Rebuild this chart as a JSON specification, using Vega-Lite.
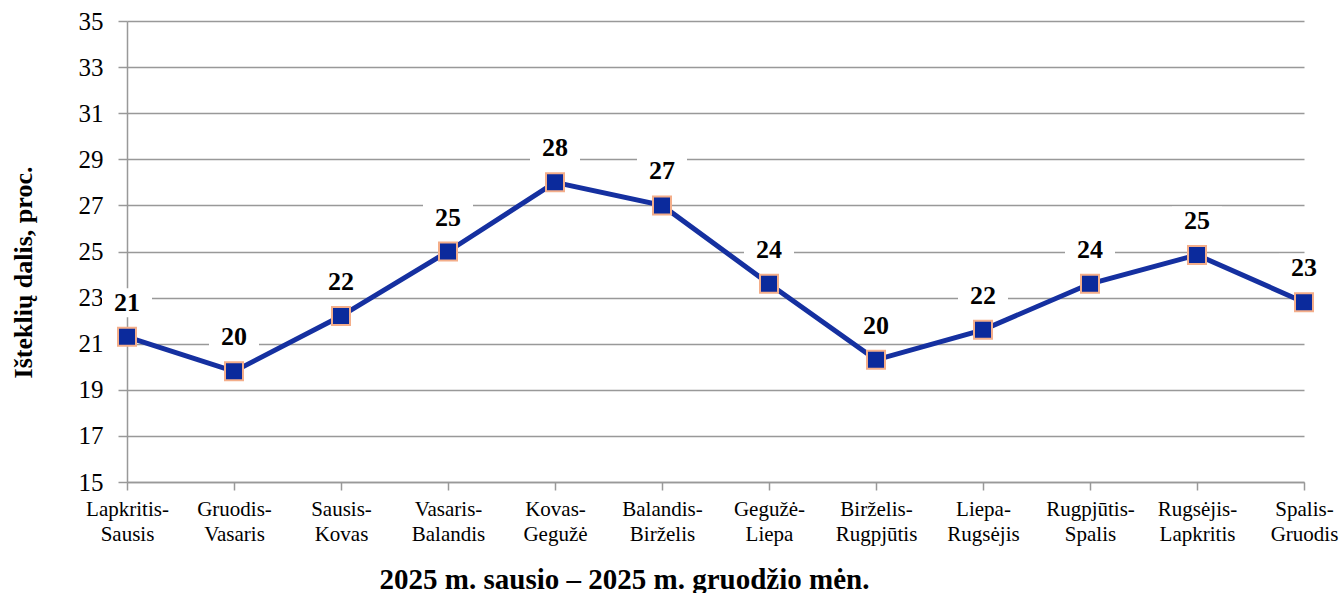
{
  "$schema": "https://vega.github.io/schema/vega-lite/v6.json",
  "width": 1177,
  "height": 461,
  "autosize": "none",
  "padding": {"left": 127, "top": 21, "right": 37, "bottom": 111},
  "background": "white",
  "config": {
    "font": "Liberation Serif",
    "view": {"stroke": null}
  },
  "data": {
    "values": [
      {"period": "Lapkritis-|Sausis", "value": 21.3, "label": "21"},
      {"period": "Gruodis-|Vasaris", "value": 19.8, "label": "20"},
      {"period": "Sausis-|Kovas", "value": 22.2, "label": "22"},
      {"period": "Vasaris-|Balandis", "value": 25.0, "label": "25"},
      {"period": "Kovas-|Gegužė", "value": 28.0, "label": "28"},
      {"period": "Balandis-|Birželis", "value": 27.0, "label": "27"},
      {"period": "Gegužė-|Liepa", "value": 23.6, "label": "24"},
      {"period": "Birželis-|Rugpjūtis", "value": 20.3, "label": "20"},
      {"period": "Liepa-|Rugsėjis", "value": 21.6, "label": "22"},
      {"period": "Rugpjūtis-|Spalis", "value": 23.6, "label": "24"},
      {"period": "Rugsėjis-|Lapkritis", "value": 24.85, "label": "25"},
      {"period": "Spalis-|Gruodis", "value": 22.8, "label": "23"}
    ]
  },
  "encoding": {
    "x": {
      "field": "period",
      "type": "ordinal",
      "sort": null,
      "scale": {"type": "point", "padding": 0},
      "axis": {
        "title": "2025 m. sausio – 2025 m. gruodžio mėn.",
        "titleFont": "Liberation Serif",
        "titleFontSize": 29,
        "titleFontWeight": "bold",
        "titleColor": "black",
        "titleX": 497,
        "titleY": 106,
        "titleBaseline": "alphabetic",
        "titleAlign": "center",
        "labelExpr": "split(datum.label, '|')",
        "labelAngle": 0,
        "labelFont": "Liberation Serif",
        "labelFontSize": 21,
        "labelColor": "black",
        "labelLineHeight": 25,
        "labelPadding": 8,
        "labelBaseline": "top",
        "labelOverlap": false,
        "domainColor": "#999999",
        "domainWidth": 1.5,
        "tickColor": "#999999",
        "tickWidth": 1.5,
        "tickSize": 8,
        "grid": false
      }
    },
    "y": {
      "field": "value",
      "type": "quantitative",
      "scale": {"domain": [15, 35], "nice": false, "zero": false},
      "axis": {
        "title": "Išteklių dalis, proc.",
        "titleFont": "Liberation Serif",
        "titleFontSize": 26,
        "titleFontWeight": "bold",
        "titleColor": "black",
        "titleAngle": 270,
        "titleX": -96,
        "titleY": 251,
        "titleAlign": "center",
        "titleBaseline": "alphabetic",
        "values": [15, 17, 19, 21, 23, 25, 27, 29, 31, 33, 35],
        "labelFont": "Liberation Serif",
        "labelFontSize": 25,
        "labelColor": "black",
        "labelPadding": 15,
        "domainColor": "#999999",
        "domainWidth": 1.5,
        "tickColor": "#999999",
        "tickWidth": 1.5,
        "tickSize": 9,
        "grid": true,
        "gridColor": "#999999",
        "gridWidth": 1.5
      }
    }
  },
  "layer": [
    {
      "mark": {
        "type": "point",
        "shape": "M-1,-0.58L1,-0.58L1,0.58L-1,0.58Z",
        "size": 2500,
        "filled": true,
        "fill": "white",
        "stroke": null,
        "opacity": 1,
        "yOffset": -34
      }
    },
    {
      "mark": {"type": "line", "color": "#1530a0", "strokeWidth": 5}
    },
    {
      "mark": {
        "type": "point",
        "shape": "square",
        "size": 324,
        "filled": true,
        "fill": "#0b2a9c",
        "stroke": "#f4ae8a",
        "strokeWidth": 2,
        "opacity": 1
      }
    },
    {
      "mark": {
        "type": "text",
        "font": "Liberation Serif",
        "fontSize": 26,
        "fontWeight": "bold",
        "color": "black",
        "baseline": "middle",
        "dy": -34
      },
      "encoding": {"text": {"field": "label"}}
    }
  ]
}
